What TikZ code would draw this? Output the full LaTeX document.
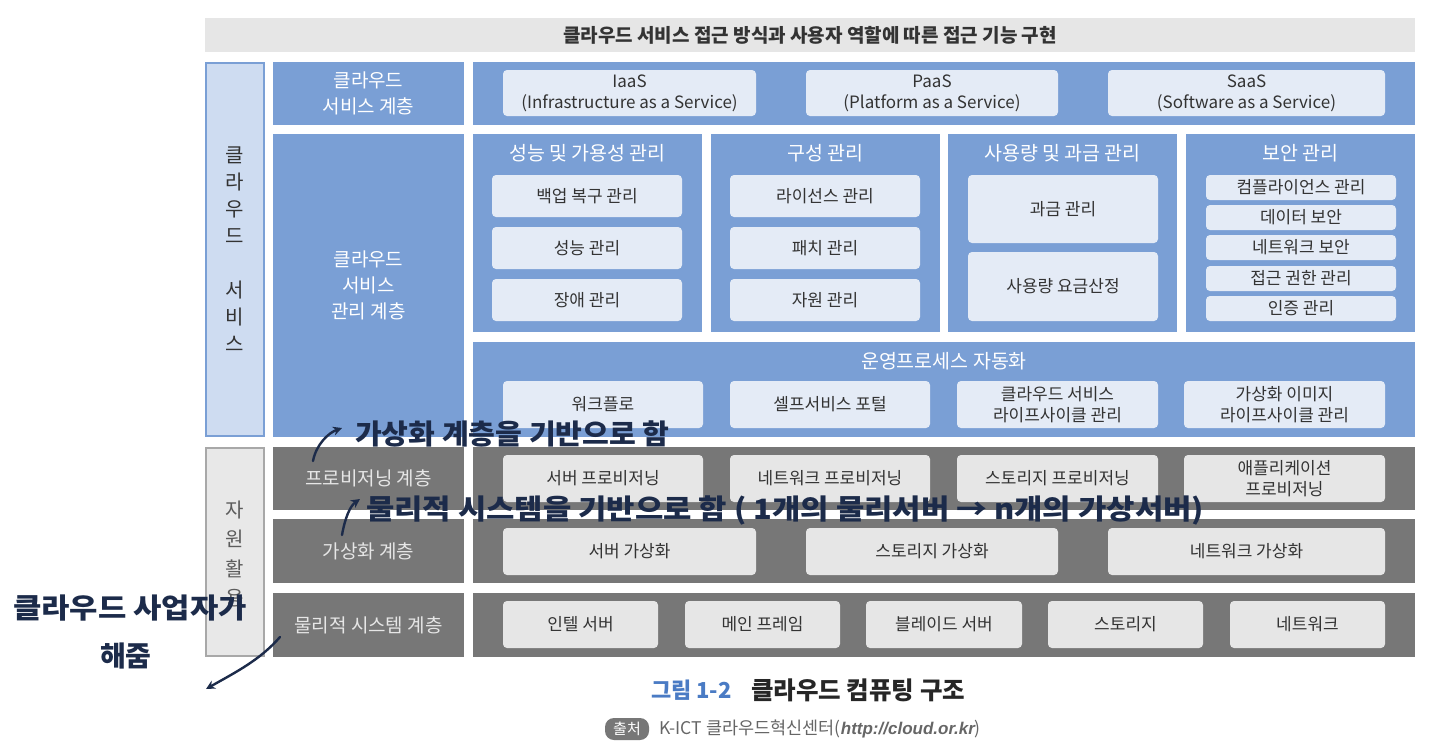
\documentclass[tikz,border=0pt]{standalone}
\usepackage{fontspec}
\usepackage{graphicx}
\setmainfont{Noto Sans CJK KR}
\newfontfamily\urlfont{Liberation Sans}
\usetikzlibrary{arrows.meta}
\definecolor{bluebox}{HTML}{7A9FD5}
\definecolor{bluein}{HTML}{E4EBF6}
\definecolor{blueside}{HTML}{CEDCF1}
\definecolor{graybox}{HTML}{777777}
\definecolor{grayin}{HTML}{E6E6E6}
\definecolor{grayside}{HTML}{E8E8E8}
\definecolor{grayedge}{HTML}{A8A8A8}
\definecolor{titlebg}{HTML}{E6E6E6}
\definecolor{txt}{HTML}{333333}
\definecolor{ink}{HTML}{1C2B4A}
\definecolor{capblue}{HTML}{4A7BC4}
\definecolor{srcgray}{HTML}{666666}
\newcommand\bx[7]{%
  \pgfmathsetmacro\bxcx{(#3+#5)/2}\pgfmathsetmacro\bxcy{(#4+#6)/2}%
  \pgfmathsetmacro\bxw{#5-#3}\pgfmathsetmacro\bxh{#6-#4}%
  \node[#1,minimum width=\bxw pt,minimum height=\bxh pt] (#2) at (\bxcx,\bxcy) {#7};}
\tikzset{
  blk/.style={inner sep=0pt, outer sep=0pt, align=center},
  titlebar/.style={blk, fill=titlebg, text=txt, font=\fontsize{19}{22}\selectfont\bfseries},
  bside/.style={blk, fill=blueside, draw=bluebox, line width=2pt},
  gside/.style={blk, fill=grayside, draw=grayedge, line width=2pt},
  sidetext/.style={blk, text=txt, font=\fontsize{20}{27}\selectfont},
  bluelbl/.style={blk, fill=bluebox, text=white, font=\fontsize{19}{26}\selectfont},
  bluepanel/.style={blk, fill=bluebox},
  grptitle/.style={blk, text=white, font=\fontsize{19.5}{22}\selectfont},
  bin/.style={blk, fill=bluein, rounded corners=4pt, text=txt, font=\fontsize{17}{21}\selectfont},
  graylbl/.style={blk, fill=graybox, text=grayin, font=\fontsize{19}{26}\selectfont},
  graypanel/.style={blk, fill=graybox},
  gin/.style={blk, fill=grayin, rounded corners=4pt, text=txt, font=\fontsize{17}{21}\selectfont},
  hand/.style={inner sep=0pt, outer sep=0pt, text=ink, font=\fontsize{28}{32}\selectfont\bfseries},
  handarrow/.style={draw=ink, line width=2.4pt, line cap=round, -{Stealth[length=9pt,width=9pt]}},
}
\begin{document}
\begin{tikzpicture}[x=1pt,y=-1pt]
\useasboundingbox (0,0) rectangle (1435,745);
\fill[white] (0,0) rectangle (1435,745);

% title bar
\bx{titlebar}{title}{205}{18}{1415}{52}{클라우드 서비스 접근 방식과 사용자 역할에 따른 접근 기능 구현}

% side columns
\bx{bside}{sideA}{206}{63}{264}{436}{}
\node[sidetext] (sideAtxt) at (sideA.center) {클\\라\\우\\드\\~\\서\\비\\스};
\bx{gside}{sideB}{206}{448}{264}{656}{}
\node[sidetext, text=txt!80, font=\fontsize{20}{29.5}\selectfont] (sideBtxt) at (235,554) {자\\원\\활\\용};

% row 1: cloud service layer
\bx{bluelbl}{svclbl}{273}{62}{464}{125}{클라우드\\서비스 계층}
\bx{bluepanel}{svcpanel}{473}{62}{1415}{125}{}
\bx{bin}{iaas}{503}{70}{756}{116}{IaaS\\(Infrastructure as a Service)}
\bx{bin}{paas}{806}{70}{1058}{116}{PaaS\\(Platform as a Service)}
\bx{bin}{saas}{1108}{70}{1385}{116}{SaaS\\(Software as a Service)}

% row 2: management layer
\bx{bluelbl}{mgmtlbl}{273}{134}{464}{437}{클라우드\\서비스\\관리 계층}
\bx{bluepanel}{g1}{473}{134}{702}{332}{}
\bx{bluepanel}{g2}{711}{134}{940}{332}{}
\bx{bluepanel}{g3}{948}{134}{1177}{332}{}
\bx{bluepanel}{g4}{1186}{134}{1415}{332}{}
\node[grptitle] (g1t) at (587.5,153) {성능 및 가용성 관리};
\node[grptitle] (g2t) at (825.5,153) {구성 관리};
\node[grptitle] (g3t) at (1062.5,153) {사용량 및 과금 관리};
\node[grptitle] (g4t) at (1300.5,153) {보안 관리};
\bx{bin}{g1a}{492}{175}{682}{217}{백업 복구 관리}
\bx{bin}{g1b}{492}{227}{682}{269}{성능 관리}
\bx{bin}{g1c}{492}{279}{682}{321}{장애 관리}
\bx{bin}{g2a}{730}{175}{920}{217}{라이선스 관리}
\bx{bin}{g2b}{730}{227}{920}{269}{패치 관리}
\bx{bin}{g2c}{730}{279}{920}{321}{자원 관리}
\bx{bin}{g3a}{968}{175}{1158}{243}{과금 관리}
\bx{bin}{g3b}{968}{252}{1158}{321}{사용량 요금산정}
\bx{bin}{g4a}{1206}{175}{1396}{200}{컴플라이언스 관리}
\bx{bin}{g4b}{1206}{205}{1396}{230}{데이터 보안}
\bx{bin}{g4c}{1206}{235}{1396}{260}{네트워크 보안}
\bx{bin}{g4d}{1206}{266}{1396}{291}{접근 권한 관리}
\bx{bin}{g4e}{1206}{296}{1396}{321}{인증 관리}
\bx{bluepanel}{ops}{473}{342}{1415}{437}{}
\node[grptitle] (opst) at (944,361) {운영프로세스 자동화};
\bx{bin}{ops1}{503}{381}{703}{428}{워크플로}
\bx{bin}{ops2}{730}{381}{930}{428}{셀프서비스 포털}
\bx{bin}{ops3}{957}{381}{1158}{428}{클라우드 서비스\\라이프사이클 관리}
\bx{bin}{ops4}{1184}{381}{1385}{428}{가상화 이미지\\라이프사이클 관리}

% row 3: provisioning
\bx{graylbl}{provlbl}{273}{447}{464}{510}{프로비저닝 계층}
\bx{graypanel}{provpanel}{473}{447}{1415}{510}{}
\bx{gin}{prov1}{503}{455}{703}{502}{서버 프로비저닝}
\bx{gin}{prov2}{730}{455}{930}{502}{네트워크 프로비저닝}
\bx{gin}{prov3}{957}{455}{1158}{502}{스토리지 프로비저닝}
\bx{gin}{prov4}{1184}{455}{1385}{502}{애플리케이션\\프로비저닝}

% row 4: virtualization
\bx{graylbl}{virtlbl}{273}{519}{464}{583}{가상화 계층}
\bx{graypanel}{virtpanel}{473}{519}{1415}{583}{}
\bx{gin}{virt1}{503}{528}{756}{575}{서버 가상화}
\bx{gin}{virt2}{806}{528}{1058}{575}{스토리지 가상화}
\bx{gin}{virt3}{1108}{528}{1385}{575}{네트워크 가상화}

% row 5: physical
\bx{graylbl}{physlbl}{273}{593}{464}{657}{물리적 시스템 계층}
\bx{graypanel}{physpanel}{473}{593}{1415}{657}{}
\bx{gin}{phys1}{503}{601}{658}{648}{인텔 서버}
\bx{gin}{phys2}{685}{601}{840}{648}{메인 프레임}
\bx{gin}{phys3}{866}{601}{1022}{648}{블레이드 서버}
\bx{gin}{phys4}{1048}{601}{1203}{648}{스토리지}
\bx{gin}{phys5}{1230}{601}{1385}{648}{네트워크}

% caption
\node[blk, anchor=west, text=capblue, font=\fontsize{22}{24}\selectfont\bfseries] (capnum) at (651,690) {그림 1-2};
\node[blk, anchor=west, text=black!85, font=\fontsize{24.5}{26}\selectfont\bfseries] (captxt) at (751,690) {클라우드 컴퓨팅 구조};
\node[blk, fill=graybox, rounded corners=9pt, text=white, minimum width=44pt, minimum height=22pt, font=\fontsize{15}{17}\selectfont] (srcbadge) at (627,729) {출처};
\node[blk, anchor=west, text=srcgray, font=\fontsize{17.5}{20}\selectfont] (srctxt) at (659,729) {K-ICT 클라우드혁신센터({\urlfont\bfseries\itshape\fontsize{17}{20}\selectfont http://cloud.or.kr})};

% handwritten annotations
\node[hand, anchor=west] (note1) at (355,434) {\scalebox{1.04}[1]{가상화 계층을 기반으로 함}};
\coordinate (n1s) at (313,461);
\coordinate (n1e) at (342,428);
\draw[handarrow] (n1s) .. controls (316,445) and (328,433) .. (n1e);

\node[hand, anchor=west] (note2) at (366,510) {\scalebox{1.1}[1]{물리적 시스템을 기반으로 함 ( 1개의 물리서버 → n개의 가상서버)}};
\coordinate (n2s) at (342,535);
\coordinate (n2e) at (360,499);
\draw[handarrow] (n2s) .. controls (345,518) and (350,506) .. (n2e);

\node[hand, anchor=west] (note3a) at (13,608) {\scalebox{1.1}[1]{클라우드 사업자가}};
\node[hand, anchor=west] (note3b) at (100,656) {해줌};
\coordinate (n3s) at (280,637);
\coordinate (n3e) at (206,689);
\draw[handarrow] (n3s) .. controls (260,660) and (236,672) .. (n3e);
\end{tikzpicture}
\end{document}
